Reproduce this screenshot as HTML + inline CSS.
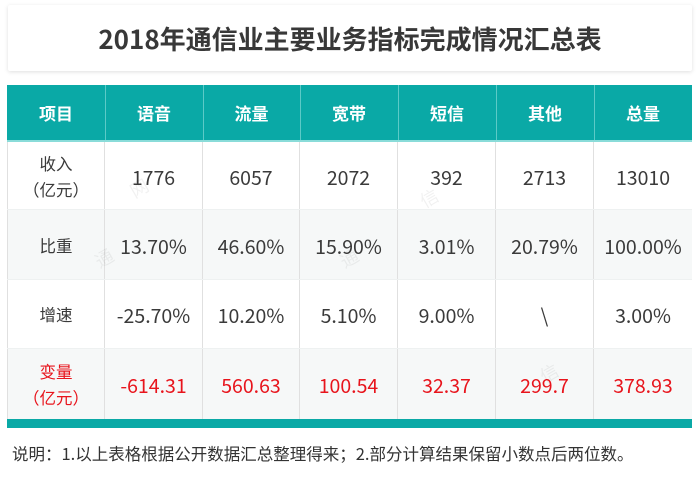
<!DOCTYPE html>
<html><head><meta charset="utf-8">
<style>
*{margin:0;padding:0;box-sizing:border-box}
html,body{width:700px;height:489px;background:#fff;overflow:hidden}
body{position:relative;font-family:"Liberation Sans","Noto Sans CJK SC",sans-serif;color:#333}
.title{position:absolute;left:8px;top:5px;width:684px;height:66px;background:#fff;box-shadow:0 1px 4px rgba(0,0,0,0.13);border-radius:2px;text-align:center;font-family:"Noto Sans CJK SC",sans-serif;font-weight:bold;font-size:26px;line-height:68px;color:#383838}
.hdr{position:absolute;top:85px;height:55px;background:#0aa9a6;color:#fff;font-family:"Noto Sans CJK SC",sans-serif;font-weight:bold;font-size:17px;line-height:55px;text-align:center}
.hline{position:absolute;left:7px;top:140px;width:685px;height:2px;background:#8adcd9}
.cell{position:absolute;height:70px;text-align:center;display:flex;align-items:center;justify-content:center;font-family:"Noto Sans CJK SC",sans-serif;font-size:19.5px;color:#3a3a3a;border-right:1px solid #e0e0e0}
.lab{font-size:16.5px;line-height:26px;flex-direction:column}
.red{color:#e8141c}
.g{background:#f6f8f8}
.vl{position:absolute;top:85px;width:1px;height:55px;background:#5ccac7}
.bar{position:absolute;left:7px;top:419px;width:685px;height:9px;background:#0aa9a6}
.note{position:absolute;left:12px;top:441px;font-family:"Noto Sans CJK SC",sans-serif;font-size:16.5px;color:#333;line-height:24px}
.wm{position:absolute;font-family:"Noto Sans CJK SC",sans-serif;font-size:18px;color:#000;opacity:0.05;transform:rotate(-30deg)}
</style></head><body>
<div class="title">2018年通信业主要业务指标完成情况汇总表</div>

<div class="hdr" style="left:7px;width:98px">项目</div>
<div class="hdr" style="left:105px;width:98px">语音</div>
<div class="hdr" style="left:203px;width:97px">流量</div>
<div class="hdr" style="left:300px;width:98px">宽带</div>
<div class="hdr" style="left:398px;width:98px">短信</div>
<div class="hdr" style="left:496px;width:98px">其他</div>
<div class="hdr" style="left:594px;width:98px">总量</div>
<div class="vl" style="left:105px"></div>
<div class="vl" style="left:203px"></div>
<div class="vl" style="left:300px"></div>
<div class="vl" style="left:398px"></div>
<div class="vl" style="left:496px"></div>
<div class="vl" style="left:594px"></div>

<!-- row 1 -->
<div class="cell lab" style="left:7px;top:141px;width:98px;border-left:1px solid #e0e0e0"><span>收入</span><span>（亿元）</span></div>
<div class="cell" style="left:105px;top:141px;width:98px">1776</div>
<div class="cell" style="left:203px;top:141px;width:97px">6057</div>
<div class="cell" style="left:300px;top:141px;width:98px">2072</div>
<div class="cell" style="left:398px;top:141px;width:98px">392</div>
<div class="cell" style="left:496px;top:141px;width:98px">2713</div>
<div class="cell" style="left:594px;top:141px;width:98px;border-right:none">13010</div>

<!-- row 2 -->
<div class="cell lab g" style="left:7px;top:210px;width:98px;border-left:1px solid #e0e0e0">比重</div>
<div class="cell g" style="left:105px;top:210px;width:98px">13.70%</div>
<div class="cell g" style="left:203px;top:210px;width:97px">46.60%</div>
<div class="cell g" style="left:300px;top:210px;width:98px">15.90%</div>
<div class="cell g" style="left:398px;top:210px;width:98px">3.01%</div>
<div class="cell g" style="left:496px;top:210px;width:98px">20.79%</div>
<div class="cell g" style="left:594px;top:210px;width:98px;border-right:none">100.00%</div>

<!-- row 3 -->
<div class="cell lab" style="left:7px;top:279px;width:98px;border-left:1px solid #e0e0e0">增速</div>
<div class="cell" style="left:105px;top:279px;width:98px">-25.70%</div>
<div class="cell" style="left:203px;top:279px;width:97px">10.20%</div>
<div class="cell" style="left:300px;top:279px;width:98px">5.10%</div>
<div class="cell" style="left:398px;top:279px;width:98px">9.00%</div>
<div class="cell" style="left:496px;top:279px;width:98px">\</div>
<div class="cell" style="left:594px;top:279px;width:98px;border-right:none">3.00%</div>

<!-- row 4 -->
<div class="cell lab g red" style="left:7px;top:349px;width:98px;border-left:1px solid #e0e0e0"><span>变量</span><span>（亿元）</span></div>
<div class="cell g red" style="left:105px;top:349px;width:98px">-614.31</div>
<div class="cell g red" style="left:203px;top:349px;width:97px">560.63</div>
<div class="cell g red" style="left:300px;top:349px;width:98px">100.54</div>
<div class="cell g red" style="left:398px;top:349px;width:98px">32.37</div>
<div class="cell g red" style="left:496px;top:349px;width:98px">299.7</div>
<div class="cell g red" style="left:594px;top:349px;width:98px;border-right:none">378.93</div>

<div style="position:absolute;left:7px;top:209px;width:685px;height:1px;background:#eef1f1"></div>
<div style="position:absolute;left:7px;top:279px;width:685px;height:1px;background:#eef1f1"></div>
<div style="position:absolute;left:7px;top:348px;width:685px;height:1px;background:#eef1f1"></div>

<div class="hline"></div>
<div class="bar"></div>

<div class="wm" style="left:95px;top:245px">通</div>
<div class="wm" style="left:340px;top:245px">通</div>
<div class="wm" style="left:130px;top:175px">网</div>
<div class="wm" style="left:420px;top:185px">信</div>
<div class="wm" style="left:540px;top:360px">信</div>

<div class="note">说明：1.以上表格根据公开数据汇总整理得来；2.部分计算结果保留小数点后两位数。</div>
</body></html>
